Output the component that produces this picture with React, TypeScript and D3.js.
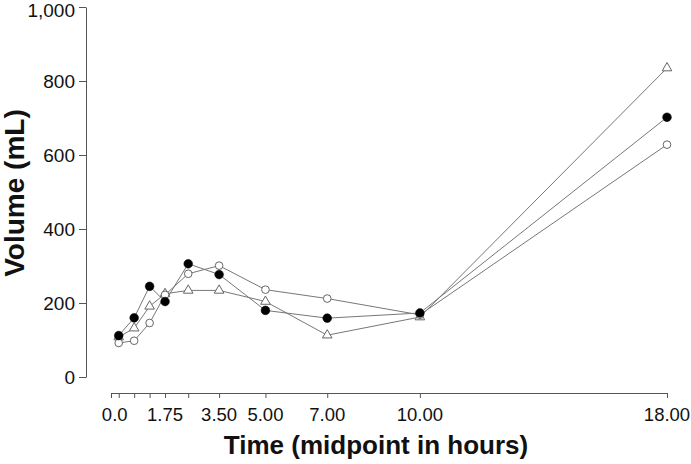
import React, { useRef, useEffect } from "react";
import * as d3 from "d3";

// midpoint of each collection interval (hours)
const timePoints = [0.25, 0.75, 1.25, 1.75, 2.5, 3.5, 5, 7, 10, 18];
const volumeFilled = [112, 160, 245, 204, 306, 277, 180, 159, 173, 702];
const volumeOpen = [92, 98, 146, 222, 279, 301, 236, 212, 168, 628];
const volumeTriangle = [108, 132, 191, 225, 234, 234, 204, 113, 162, 835];

const xTicks = [0, 0.25, 0.75, 1.25, 1.75, 2.5, 3.5, 5, 7, 10, 18];
const xLabels = [
  { at: 0.12, text: "0.0" },
  { at: 1.75, text: "1.75" },
  { at: 3.5, text: "3.50" },
  { at: 5, text: "5.00" },
  { at: 7, text: "7.00" },
  { at: 10, text: "10.00" },
  { at: 18, text: "18.00" },
];
const yTicks = [0, 200, 400, 600, 800, 1000];

const App = () => {
  const ref = useRef<SVGSVGElement>(null);

  useEffect(() => {
    const width = 691;
    const height = 464;
    const svg = d3.select(ref.current);
    svg.selectAll("*").remove();
    svg.attr("width", width).attr("height", height);

    const font = "'Liberation Sans', Arial, sans-serif";
    const x = d3.scaleLinear().domain([0, 18]).range([111, 667]);
    const y = d3.scaleLinear().domain([0, 1000]).range([377, 7]);
    const axisColor = "#555";

    // y axis
    const yAxis = svg.append("g").attr("transform", "translate(86,0)");
    yAxis.call(
      d3
        .axisLeft(y)
        .tickValues(yTicks)
        .tickSize(7)
        .tickSizeOuter(0)
        .tickPadding(4)
        .tickFormat((d) => d3.format(",")(d as number))
    );
    yAxis.select(".domain").attr("stroke", axisColor);
    yAxis.selectAll(".tick line").attr("stroke", axisColor);
    yAxis
      .selectAll(".tick text")
      .attr("font-family", font)
      .attr("font-size", 19)
      .attr("dy", (d) => (d === 1000 ? "0.5em" : "0.36em"))
      .attr("fill", "#111");

    // x axis
    const xAxis = svg.append("g").attr("transform", "translate(0,393)");
    xAxis.call(
      d3
        .axisBottom(x)
        .tickValues(xTicks)
        .tickSize(5)
        .tickSizeOuter(0)
        .tickFormat(() => "")
    );
    xAxis.select(".domain").attr("stroke", axisColor);
    xAxis.selectAll(".tick line").attr("stroke", axisColor);

    svg
      .append("g")
      .selectAll("text")
      .data(xLabels)
      .enter()
      .append("text")
      .attr("x", (d) => x(d.at))
      .attr("y", 421)
      .attr("text-anchor", "middle")
      .attr("font-family", font)
      .attr("font-size", 18.5)
      .attr("fill", "#111")
      .text((d) => d.text);

    // axis titles
    svg
      .append("text")
      .attr("x", 376)
      .attr("y", 454)
      .attr("text-anchor", "middle")
      .attr("font-family", font)
      .attr("font-size", 26)
      .attr("font-weight", "bold")
      .attr("fill", "#111")
      .text("Time (midpoint in hours)");

    svg
      .append("text")
      .attr("transform", `translate(24,193) rotate(-90)`)
      .attr("text-anchor", "middle")
      .attr("font-family", font)
      .attr("font-size", 28)
      .attr("font-weight", "bold")
      .attr("fill", "#111")
      .text("Volume (mL)");

    const seriesList = [
      { values: volumeTriangle, kind: "triangle" },
      { values: volumeOpen, kind: "open" },
      { values: volumeFilled, kind: "filled" },
    ];

    const line = d3
      .line<number>()
      .x((_, i) => x(timePoints[i]))
      .y((d) => y(d));

    seriesList.forEach((s) => {
      svg
        .append("path")
        .attr("d", line(s.values))
        .attr("fill", "none")
        .attr("stroke", "#777")
        .attr("stroke-width", 1);
    });

    seriesList.forEach((s) => {
      const g = svg.append("g");
      const pts = g
        .selectAll("path")
        .data(s.values)
        .enter()
        .append("path")
        .attr("transform", (d, i) => `translate(${x(timePoints[i])},${y(d)})`);
      if (s.kind === "triangle") {
        pts
          .attr("d", d3.symbol().type(d3.symbolTriangle).size(40)())
          .attr("fill", "white")
          .attr("stroke", "#666")
          .attr("stroke-width", 1);
      } else if (s.kind === "open") {
        pts
          .attr("d", d3.symbol().type(d3.symbolCircle).size(46)())
          .attr("fill", "white")
          .attr("stroke", "#666")
          .attr("stroke-width", 1);
      } else {
        pts
          .attr("d", d3.symbol().type(d3.symbolCircle).size(60)())
          .attr("fill", "#000")
          .attr("stroke", "#000")
          .attr("stroke-width", 0.5);
      }
    });

    return () => {
      svg.selectAll("*").remove();
    };
  }, []);

  return <svg ref={ref} style={{ position: "absolute", left: 0, top: 0 }}></svg>;
};

export default App;
